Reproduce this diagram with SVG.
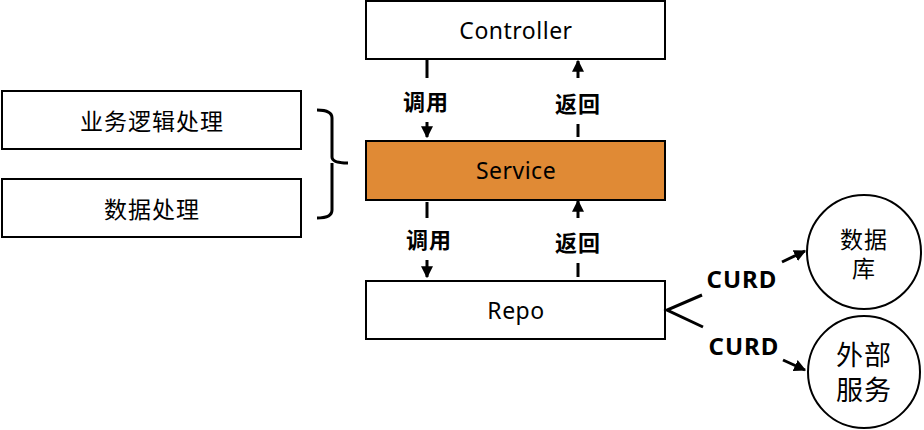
<svg xmlns="http://www.w3.org/2000/svg" width="924" height="430" viewBox="0 0 924 430">
<style>
.box{fill:#fff;stroke:#000;stroke-width:2}
.t{font-family:"Noto Sans","Noto Sans CJK SC",sans-serif;font-size:23px;letter-spacing:0.5px;text-anchor:middle;dominant-baseline:central;fill:#000}
.c{font-family:"Noto Sans CJK SC",sans-serif;font-size:23px;letter-spacing:1px;text-anchor:middle;dominant-baseline:central;fill:#000}
.lb{font-family:"Noto Sans CJK SC","Noto Sans",sans-serif;font-size:22px;font-weight:bold;letter-spacing:1px;text-anchor:middle;dominant-baseline:central;fill:#000}
.cu{font-family:"Noto Sans",sans-serif;font-size:24px;font-weight:bold;letter-spacing:1px;text-anchor:middle;dominant-baseline:central;fill:#000}
.ln{stroke:#000;stroke-width:3;fill:none}
</style>
<defs>
<marker id="ah" viewBox="0 0 10 10" refX="9" refY="5" markerWidth="4" markerHeight="4" orient="auto" markerUnits="strokeWidth">
<path d="M0,0 L10,5 L0,10 z" fill="#000"/>
</marker>
</defs>
<rect width="924" height="430" fill="#fff"/>
<g id="controller"><rect class="box" x="366" y="1" width="299" height="58"/><text class="t" x="516" y="30">Controller</text></g>
<g id="service"><rect x="366" y="141" width="299" height="59" fill="#E08A35" stroke="#000" stroke-width="2"/><text class="t" x="516" y="170">Service</text></g>
<g id="repo"><rect class="box" x="366" y="281" width="299" height="58"/><text class="t" x="516" y="310">Repo</text></g>
<g id="biz"><rect class="box" x="2" y="91" width="299" height="58"/><text class="c" x="152" y="120">业务逻辑处理</text></g>
<g id="data"><rect class="box" x="2" y="179" width="299" height="58"/><text class="c" x="152" y="208">数据处理</text></g>
<g id="db"><circle cx="864" cy="252" r="57" fill="#fff" stroke="#000" stroke-width="2"/><text class="c"><tspan x="864" y="238">数据</tspan><tspan x="864" y="267">库</tspan></text></g>
<g id="ext"><circle cx="864" cy="372" r="56" fill="#fff" stroke="#000" stroke-width="2"/><text class="c" style="font-size:27px"><tspan x="864" y="353">外部</tspan><tspan x="864" y="388">服务</tspan></text></g>
<g id="connectors">
<path class="ln" d="M317,110 Q332,110 332,118 L332,157 Q332,163 348,163 M332,163 Q332,169 332,172 L332,210 Q332,218 317,218"/>
<line class="ln" x1="427" y1="60" x2="427" y2="78"/>
<line class="ln" x1="427" y1="122" x2="427" y2="137" marker-end="url(#ah)"/>
<line class="ln" x1="578" y1="137" x2="578" y2="124"/>
<line class="ln" x1="578" y1="78" x2="578" y2="61" marker-end="url(#ah)"/>
<line class="ln" x1="427" y1="202" x2="427" y2="218"/>
<line class="ln" x1="427" y1="260" x2="427" y2="277" marker-end="url(#ah)"/>
<line class="ln" x1="578" y1="277" x2="578" y2="263"/>
<line class="ln" x1="578" y1="218" x2="578" y2="201" marker-end="url(#ah)"/>
<text class="lb" x="426" y="100">调用</text>
<text class="lb" x="578" y="102">返回</text>
<text class="lb" x="429" y="238">调用</text>
<text class="lb" x="578" y="241">返回</text>
<path class="ln" d="M702,295 L667,310 L703,327"/>
<line class="ln" x1="782" y1="262" x2="805" y2="251" marker-end="url(#ah)"/>
<line class="ln" x1="783" y1="360" x2="805" y2="370" marker-end="url(#ah)"/>
<text class="cu" x="742" y="278">CURD</text>
<text class="cu" x="744" y="345">CURD</text>
</g>
</svg>
